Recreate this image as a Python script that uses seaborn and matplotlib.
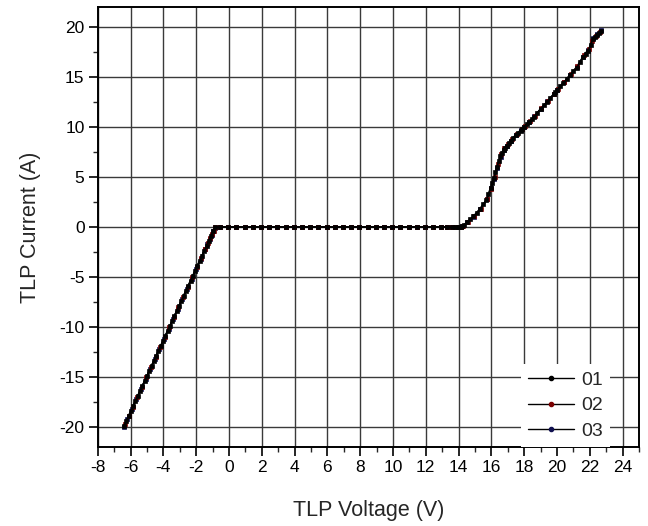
import matplotlib
matplotlib.use("Agg")
import matplotlib.pyplot as plt
from matplotlib.ticker import MultipleLocator
from matplotlib.lines import Line2D
import seaborn as sns
import pandas as pd

# ---------------- data ----------------
SERIES = ["01", "02", "03"]
MARKER_COLORS = ["#000000", "#7a0000", "#101050"]

FLAT_V = [-0.55, -0.05, 0.45, 0.95, 1.45, 1.95, 2.45, 2.95, 3.45, 3.95, 4.45,
          4.95, 5.45, 5.95, 6.45, 6.95, 7.45, 7.95, 8.45, 8.95, 9.45, 9.95,
          10.45, 10.95, 11.45, 11.95, 12.45, 12.95, 13.3, 13.6, 13.8, 13.95,
          14.05, 14.15]
FLAT_I = [0.0] * len(FLAT_V)

NEG_V_01 = [-6.40, -6.26, -6.12, -5.98, -5.84, -5.70, -5.56, -5.42, -5.28, -5.14,
            -5.00, -4.86, -4.72, -4.58, -4.44, -4.30, -4.16, -4.02, -3.88, -3.74,
            -3.60, -3.46, -3.32, -3.18, -3.04, -2.90, -2.76, -2.62, -2.48, -2.34,
            -2.20, -2.06, -1.92, -1.78, -1.64, -1.50, -1.36, -1.22, -1.08, -0.96,
            -0.86]
NEG_I_01 = [-19.92, -19.42, -18.91, -18.41, -17.91, -17.41, -16.91, -16.41, -15.91,
            -15.41, -14.91, -14.40, -13.90, -13.40, -12.90, -12.40, -11.90, -11.40,
            -10.90, -10.39, -9.89, -9.39, -8.89, -8.39, -7.89, -7.39, -6.89, -6.38,
            -5.88, -5.38, -4.88, -4.38, -3.88, -3.38, -2.88, -2.38, -1.87, -1.37,
            -0.87, -0.44, -0.05]
POS_V_01 = [14.2, 14.35, 14.5, 14.7, 14.9, 15.1, 15.3, 15.5, 15.7, 15.82, 15.95,
            16.05, 16.15, 16.25, 16.35, 16.45, 16.55, 16.65, 16.75, 16.85, 16.95,
            17.08, 17.2, 17.35, 17.5, 17.65, 17.8, 17.9, 18.0, 18.15, 18.3, 18.45,
            18.6, 18.8, 19.0, 19.2, 19.4, 19.6, 19.8, 19.9, 20.0, 20.2, 20.4, 20.6,
            20.8, 21.0, 21.2, 21.4, 21.6, 21.75, 21.9, 22.05, 22.2, 22.32, 22.45,
            22.56, 22.67]
POS_I_01 = [0.05, 0.22, 0.45, 0.75, 1.05, 1.42, 1.8, 2.25, 2.7, 3.3, 3.9, 4.4, 4.9,
            5.45, 6.0, 6.55, 7.1, 7.4, 7.7, 7.9, 8.1, 8.35, 8.6, 8.9, 9.2, 9.4, 9.6,
            9.8, 10.0, 10.25, 10.5, 10.75, 11.0, 11.4, 11.8, 12.15, 12.5, 12.9, 13.3,
            13.5, 13.7, 14.05, 14.4, 14.8, 15.2, 15.55, 15.9, 16.45, 17.0, 17.3,
            17.6, 18.2, 18.8, 19.0, 19.2, 19.4, 19.6]

NEG_V_02 = [-6.36, -6.12, -5.86, -5.60, -5.30, -5.03, -4.75, -4.47, -4.20, -3.92,
            -3.63, -3.36, -3.08, -2.80, -2.52, -2.24, -1.96, -1.69, -1.44, -1.29,
            -1.14, -1.04, -0.94, -0.86]
NEG_I_02 = [-19.75, -18.95, -17.98, -17.05, -15.98, -15.02, -14.02, -13.03, -12.05,
            -11.05, -10.02, -9.05, -8.04, -7.04, -6.04, -5.04, -4.03, -3.06, -2.17,
            -1.63, -1.09, -0.73, -0.38, -0.04]
POS_V_02 = [14.25, 14.55, 14.95, 15.35, 15.75, 16.0, 16.2, 16.4, 16.6, 16.8, 17.0,
            17.25, 17.55, 17.85, 18.05, 18.35, 18.65, 19.05, 19.45, 19.85, 20.05,
            20.45, 20.85, 21.25, 21.65, 21.95, 22.15, 22.4, 22.6]
POS_I_02 = [0.05, 0.5, 1.1, 1.75, 2.8, 3.8, 5.0, 6.3, 7.3, 7.9, 8.3, 8.8, 9.3, 9.8,
            10.1, 10.6, 11.1, 11.9, 12.6, 13.3, 13.8, 14.5, 15.3, 16.1, 17.2, 17.8,
            18.6, 19.1, 19.5]

NEG_V_03 = [-6.42, -6.20, -5.92, -5.64, -5.36, -5.08, -4.80, -4.52, -4.24, -3.96,
            -3.68, -3.40, -3.12, -2.84, -2.56, -2.28, -2.00, -1.72, -1.46, -1.31,
            -1.16, -1.06, -0.96, -0.87]
NEG_I_03 = [-19.98, -19.20, -18.20, -17.20, -16.20, -15.20, -14.20, -13.20, -12.20,
            -11.20, -10.20, -9.20, -8.18, -7.18, -6.18, -5.18, -4.17, -3.17, -2.24,
            -1.70, -1.16, -0.80, -0.45, -0.08]
POS_V_03 = [14.22, 14.52, 14.92, 15.32, 15.72, 15.97, 16.17, 16.37, 16.57, 16.77,
            16.97, 17.22, 17.52, 17.82, 18.02, 18.32, 18.62, 19.02, 19.42, 19.82,
            20.02, 20.42, 20.82, 21.22, 21.62, 21.92, 22.22, 22.47, 22.69]
POS_I_03 = [0.05, 0.45, 1.0, 1.8, 2.75, 3.85, 4.8, 5.9, 7.0, 7.65, 8.1, 8.6, 9.2,
            9.65, 10.0, 10.5, 11.05, 11.8, 12.55, 13.3, 13.7, 14.45, 15.2, 15.95,
            17.0, 17.65, 18.85, 19.3, 19.65]

NEG_V = [NEG_V_01, NEG_V_02, NEG_V_03]
NEG_I = [NEG_I_01, NEG_I_02, NEG_I_03]
POS_V = [POS_V_01, POS_V_02, POS_V_03]
POS_I = [POS_I_01, POS_I_02, POS_I_03]

X_TICKS = [-8, -6, -4, -2, 0, 2, 4, 6, 8, 10, 12, 14, 16, 18, 20, 22, 24]
Y_TICKS = [-20, -15, -10, -5, 0, 5, 10, 15, 20]

rows = []
for s, nv, ni, pv, pi in zip(SERIES, NEG_V, NEG_I, POS_V, POS_I):
    vs = nv + FLAT_V + pv
    cs = ni + FLAT_I + pi
    for k, (v, c) in enumerate(zip(vs, cs)):
        rows.append({"run": s, "order": k, "V": v, "I": c})
df = pd.DataFrame(rows)

# ---------------- style ----------------
sns.set_style("ticks")
plt.rcParams["font.family"] = ["Liberation Sans", "DejaVu Sans"]
plt.rcParams["axes.unicode_minus"] = False

fig = plt.figure(figsize=(6.48, 5.26), dpi=100)
ax = fig.add_axes([0.1508, 0.1502, 0.8352, 0.8365])

ax.set_xlim(-8, 25)
ax.set_ylim(-22, 22)
ax.set_xticks(X_TICKS)
ax.set_yticks(Y_TICKS)
ax.xaxis.set_minor_locator(MultipleLocator(1))
ax.yaxis.set_minor_locator(MultipleLocator(2.5))

ax.grid(True, which="major", color="#3a3a3a", linewidth=1.0, zorder=0)
ax.set_axisbelow(True)

# draw 03 and 02 first so that 01 (black) lies on top
for s, mc in list(zip(SERIES, MARKER_COLORS))[::-1]:
    sub = df[df["run"] == s].sort_values("order")
    sns.lineplot(data=sub, x="V", y="I", sort=False, estimator=None, ax=ax,
                 color="black", linewidth=1.2, marker="s", markersize=2.9,
                 markerfacecolor=mc, markeredgecolor=mc, markeredgewidth=0.5,
                 legend=False, zorder=3)

for sp in ax.spines.values():
    sp.set_color("black")
    sp.set_linewidth(1.4)

ax.tick_params(axis="both", which="major", direction="out", length=6.5, width=1.2,
               labelsize=12.5, colors="black", pad=3,
               top=False, right=False)
ax.tick_params(axis="both", which="minor", direction="out", length=3.5, width=1.0,
               top=False, right=False)

ax.set_xlabel("TLP Voltage (V)", fontsize=15.5, labelpad=18)
ax.set_ylabel("TLP Current (A)", fontsize=15.5, labelpad=13)

handles = [Line2D([0], [0], color="black", linewidth=1.0, marker="o",
                  markersize=3, markerfacecolor=mc, markeredgecolor=mc)
           for mc in MARKER_COLORS]
leg = ax.legend(handles, SERIES, loc="lower right", bbox_to_anchor=(0.946, 0.0),
                borderaxespad=0, fontsize=14, frameon=True, fancybox=False,
                handlelength=2.4, handletextpad=0.35, labelspacing=0.42,
                borderpad=0.35)
leg.get_frame().set_facecolor("white")
leg.get_frame().set_edgecolor("none")
leg.get_frame().set_alpha(1.0)
leg.set_zorder(5)

fig.savefig("out.png", dpi=100)
